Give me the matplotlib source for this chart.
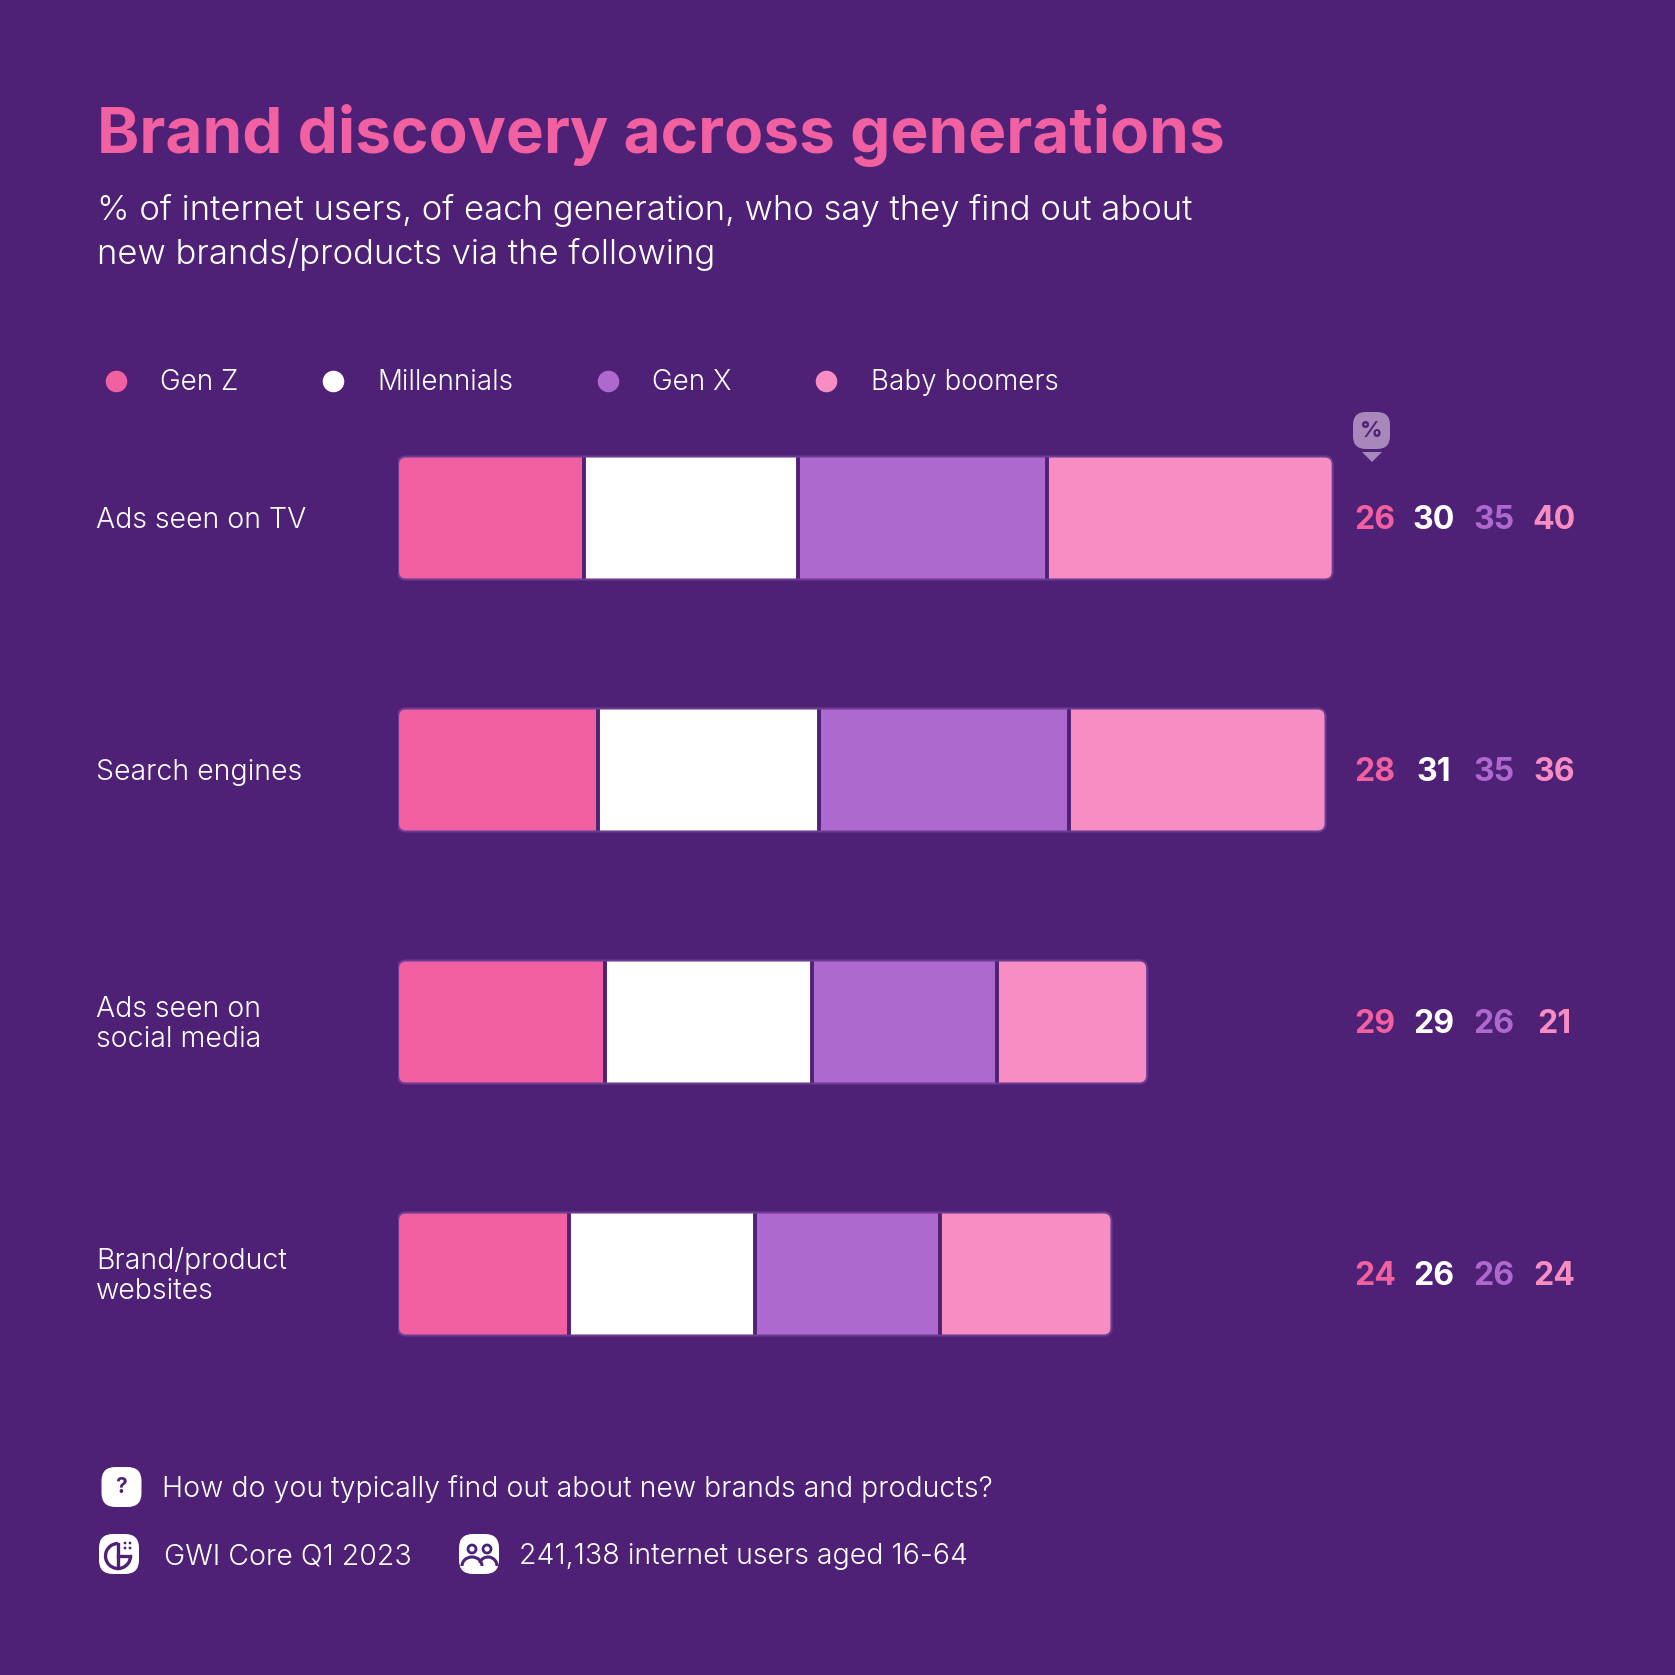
import matplotlib.pyplot as plt
from matplotlib.lines import Line2D
from matplotlib.patches import Arc, Circle, FancyBboxPatch, Polygon

categories = ["Ads seen on TV", "Search engines", "Ads seen on\nsocial media", "Brand/product\nwebsites"]
generations = ["Gen Z", "Millennials", "Gen X", "Baby boomers"]
gen_z = [26, 28, 29, 24]
millennials = [30, 31, 29, 26]
gen_x = [35, 35, 26, 26]
boomers = [40, 36, 21, 24]

BG = "#4f2176"
EDGE = "#6c3c92"
COLORS = ["#f160a1", "#ffffff", "#ad69ce", "#f78dc3"]
FONT = "Inter"
plt.rcParams["font.family"] = [FONT, "DejaVu Sans"]
plt.rcParams["font.weight"] = 300

fig = plt.figure(figsize=(16.75, 16.75), dpi=100, facecolor=BG)

# overlay in pixel coords for the text and icons
ov = fig.add_axes([0, 0, 1, 1], zorder=2)
ov.set_xlim(0, 1675)
ov.set_ylim(1675, 0)
ov.axis("off")

# bars: 7.135 px per percentage point, 252 px per row
PX_X = 7.135
PX_Y = 252
ax_w = 1000
ax = fig.add_axes([398 / 1675, 1 - 1400 / 1675, ax_w / 1675, 1008 / 1675], zorder=1)
ax.set_xlim(0, ax_w / PX_X)
ax.set_ylim(3.5, -0.5)
ax.axis("off")

series = [gen_z, millennials, gen_x, boomers]
bar_h = 123 / PX_Y
for row in range(len(categories)):
    total = sum(s[row] for s in series)
    shape = FancyBboxPatch(
        (0, row - bar_h / 2), total, bar_h,
        boxstyle=f"round,pad=0,rounding_size={8 / PX_X}",
        mutation_aspect=PX_X / PX_Y,
        transform=ax.transData, fc="none", ec=EDGE, lw=1.5, zorder=4,
    )
    ax.add_patch(shape)
    left = 0
    for s, color in zip(series, COLORS):
        bars = ax.barh(row, s[row], left=left, height=bar_h, color=color, zorder=2)
        bars[0].set_clip_path(shape)
        left += s[row]
        if left < total:
            ax.vlines(left, row - bar_h / 2, row + bar_h / 2, color=BG, lw=2.8, zorder=3)

# titles
ov.text(97, 153, "Brand discovery across generations", color=COLORS[0], fontsize=46, weight="bold")
ov.text(97, 220, "% of internet users, of each generation, who say they find out about", color="white", fontsize=25)
ov.text(97, 264, "new brands/products via the following", color="white", fontsize=25)

# legend
handles = [
    Line2D([], [], marker="o", ls="", color=c, markersize=14.5, label=g)
    for c, g in zip(COLORS, generations)
]
fig.legend(
    handles=handles, ncol=4, frameon=False, loc="center left",
    bbox_to_anchor=(88 / 1675, 1 - 383 / 1675), borderpad=0, borderaxespad=0,
    prop={"size": 20, "weight": 300}, labelcolor="white", handletextpad=0.6, columnspacing=2.4,
)

# row labels and values
value_x = [1375, 1434, 1494, 1554]
for row, name in enumerate(categories):
    cy = 518 + row * PX_Y
    lines = name.split("\n")
    if len(lines) == 1:
        ov.text(96, cy + 10, name, color="white", fontsize=20.5)
    else:
        ov.text(96, cy - 5, lines[0], color="white", fontsize=20.5)
        ov.text(96, cy + 25, lines[1], color="white", fontsize=20.5)
    for s, color, x in zip(series, COLORS, value_x):
        ov.text(x, cy + 11, str(s[row]), color=color, fontsize=23, weight="bold", ha="center")

# % marker above the values
ov.add_patch(FancyBboxPatch((1353, 412), 37, 37, boxstyle="round,pad=0,rounding_size=13", fc="#a888bb", ec="none"))
ov.add_patch(Polygon([[1362, 452], [1382, 452], [1372, 462]], fc="#a888bb", ec="none"))
ov.text(1371.5, 431, "%", color=BG, fontsize=16, weight="bold", ha="center", va="center")


def icon_box(x, y):
    ov.add_patch(FancyBboxPatch((x - 20, y - 20), 40, 40, boxstyle="round,pad=0,rounding_size=14", fc="white", ec="none"))


# footer
icon_box(121.5, 1487)
ov.text(121.5, 1487, "?", color=BG, fontsize=15, weight="bold", ha="center", va="center")
ov.text(162, 1497, "How do you typically find out about new brands and products?", color="white", fontsize=20.5)

icon_box(119, 1554)
ov.add_patch(Arc((118, 1556), 25, 25, theta1=0, theta2=270, color=BG, lw=2.4))
ov.plot([118, 118], [1544, 1568], color=BG, lw=2.4)
ov.plot([118, 130], [1556, 1556], color=BG, lw=2.4)
for dx, dy in [(125, 1543), (130, 1548), (125, 1548), (130, 1543)]:
    ov.add_patch(Circle((dx, dy), 1.4, fc=BG, ec="none"))
ov.text(164, 1564, "GWI Core Q1 2023", color="white", fontsize=20.5)

icon_box(479, 1554)
for cx in (472, 487):
    ov.add_patch(Circle((cx, 1549), 4, fc="none", ec=BG, lw=2))
ov.add_patch(Arc((472, 1566), 20, 18, theta1=180, theta2=360, color=BG, lw=2.2))
ov.add_patch(Arc((488, 1566), 18, 18, theta1=200, theta2=360, color=BG, lw=2.2))
ov.text(519, 1564, "241,138 internet users aged 16-64", color="white", fontsize=20.5)

fig.savefig("out.png", dpi=100, facecolor=BG)
